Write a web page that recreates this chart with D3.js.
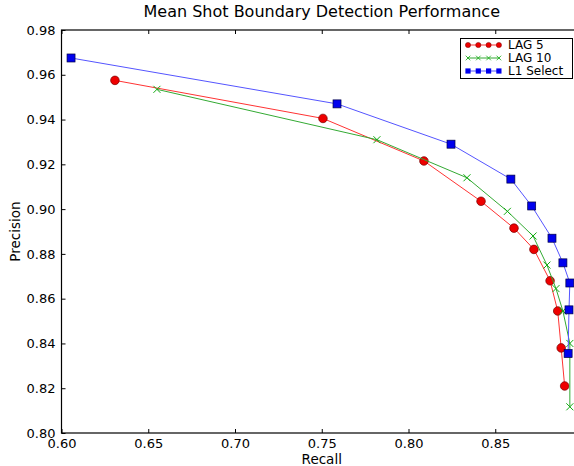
<!DOCTYPE html>
<html><head><meta charset="utf-8">
<script src="https://cdn.jsdelivr.net/npm/d3@7"></script>
<style>body{margin:0;background:#fff}svg{display:block;font-family:"DejaVu Sans",sans-serif}</style>
</head><body><svg id="c" width="574" height="466"></svg>
<script>
const xTicks = [0.60,0.65,0.70,0.75,0.80,0.85];
const yTicks = [0.80,0.82,0.84,0.86,0.88,0.90,0.92,0.94,0.96,0.98];
const seriesNames = ["LAG 5","LAG 10","L1 Select"];
const lag5Recall    = [0.6308,0.7507,0.8089,0.8418,0.8608,0.8723,0.8816,0.8860,0.8880,0.8900];
const lag5Precision = [0.9575,0.9405,0.9215,0.9035,0.8915,0.8820,0.8680,0.8545,0.8380,0.8210];
const lag10Recall    = [0.6550,0.7818,0.8337,0.8570,0.8718,0.8798,0.8850,0.8890,0.8930,0.8930];
const lag10Precision = [0.9535,0.9310,0.9140,0.8990,0.8880,0.8750,0.8645,0.8545,0.8400,0.8117];
const l1Recall    = [0.6055,0.7588,0.8245,0.8590,0.8710,0.8827,0.8890,0.8930,0.8925,0.8920];
const l1Precision = [0.9675,0.9470,0.9290,0.9134,0.9014,0.8870,0.8760,0.8670,0.8550,0.8355];

const svg = d3.select("#c");
const L = 61.5, R = 582, T = 30, B = 433;
const x = d3.scaleLinear().domain([0.60,0.90]).range([L,R]);
const y = d3.scaleLinear().domain([0.80,0.98]).range([B,T]);

// title
svg.append("text").attr("x",(L+R)/2).attr("y",17).attr("text-anchor","middle")
  .attr("font-size",16).attr("fill","#000").text("Mean Shot Boundary Detection Performance");

// axes
const ax = svg.append("g").attr("transform",`translate(0,${B})`)
  .call(d3.axisBottom(x).tickValues(xTicks).tickFormat(d3.format(".2f")).tickSizeInner(-4).tickSizeOuter(0).tickPadding(6));
const axT = svg.append("g").attr("transform",`translate(0,${T})`)
  .call(d3.axisTop(x).tickValues(xTicks).tickFormat("").tickSizeInner(-4).tickSizeOuter(0));
const ay = svg.append("g").attr("transform",`translate(${L},0)`)
  .call(d3.axisLeft(y).tickValues(yTicks).tickFormat(d3.format(".2f")).tickSizeInner(-4).tickSizeOuter(0).tickPadding(6));
const ayR = svg.append("g").attr("transform",`translate(${R},0)`)
  .call(d3.axisRight(y).tickValues(yTicks).tickFormat("").tickSizeInner(-4).tickSizeOuter(0));
[ax,axT,ay,ayR].forEach(g=>{
  g.selectAll(".domain").remove();
  g.selectAll("line").attr("stroke","#000");
  g.selectAll("text").attr("font-size",13).attr("fill","#000").attr("font-family","DejaVu Sans");
});
ax.selectAll("text").attr("dy","0.72em");
// frame
svg.append("rect").attr("x",L).attr("y",T).attr("width",R-L).attr("height",B-T)
  .attr("fill","none").attr("stroke","#000").attr("stroke-width",1.2);

svg.append("text").attr("x",(L+R)/2).attr("y",464).attr("text-anchor","middle")
  .attr("font-size",13.5).text("Recall");
svg.append("text").attr("transform",`translate(20,${(T+B)/2}) rotate(-90)`).attr("text-anchor","middle")
  .attr("font-size",13.5).text("Precision");

const series = [
  {name:seriesNames[0], xs:lag5Recall, ys:lag5Precision, line:"#f33", marker:"circle", fill:"#ee0000", edge:"#700"},
  {name:seriesNames[1], xs:lag10Recall, ys:lag10Precision, line:"#3a3", marker:"x", fill:"none", edge:"#1a1"},
  {name:seriesNames[2], xs:l1Recall, ys:l1Precision, line:"#55f", marker:"square", fill:"#0000ee", edge:"#004"}
];
const line = d3.line().x(d=>x(d[0])).y(d=>y(d[1]));
function drawMarker(g, type, cx, cy, s){
  if(type==="circle") g.append("circle").attr("cx",cx).attr("cy",cy).attr("r",4.3).attr("fill",s.fill).attr("stroke",s.edge).attr("stroke-width",0.7);
  else if(type==="square") g.append("rect").attr("x",cx-4).attr("y",cy-4).attr("width",8).attr("height",8).attr("fill",s.fill).attr("stroke",s.edge).attr("stroke-width",0.7);
  else { const r=3.5; g.append("path").attr("d",`M${cx-r},${cy-r}L${cx+r},${cy+r}M${cx-r},${cy+r}L${cx+r},${cy-r}`).attr("stroke",s.edge).attr("stroke-width",1).attr("fill","none"); }
}
series.forEach(s=>{
  const pts = s.xs.map((v,i)=>[v,s.ys[i]]);
  svg.append("path").datum(pts).attr("d",line).attr("fill","none").attr("stroke",s.line).attr("stroke-width",1);
  const g = svg.append("g");
  pts.forEach(p=>drawMarker(g,s.marker,x(p[0]),y(p[1]),s));
});

// legend
const lg = svg.append("g");
lg.append("rect").attr("x",460.5).attr("y",38.5).attr("width",112).attr("height",40).attr("fill","#fff").attr("stroke","#000").attr("stroke-width",1);
series.forEach((s,i)=>{
  const yy = 45 + i*13;
  lg.append("line").attr("x1",467).attr("x2",500).attr("y1",yy).attr("y2",yy).attr("stroke",s.line).attr("stroke-width",1);
  [0,1,2,3].forEach(k=>{
    const cx = 468 + k*10.3;
    if(s.marker==="circle") lg.append("circle").attr("cx",cx).attr("cy",yy).attr("r",2.6).attr("fill",s.fill).attr("stroke",s.edge).attr("stroke-width",0.5);
    else if(s.marker==="square") lg.append("rect").attr("x",cx-2.6).attr("y",yy-2.6).attr("width",5.2).attr("height",5.2).attr("fill",s.fill);
    else { const r=2.3; lg.append("path").attr("d",`M${cx-r},${yy-r}L${cx+r},${yy+r}M${cx-r},${yy+r}L${cx+r},${yy-r}`).attr("stroke",s.edge).attr("stroke-width",0.8); }
  });
  lg.append("text").attr("x",508).attr("y",yy+4.3).attr("font-size",12).text(s.name);
});
</script></body></html>
